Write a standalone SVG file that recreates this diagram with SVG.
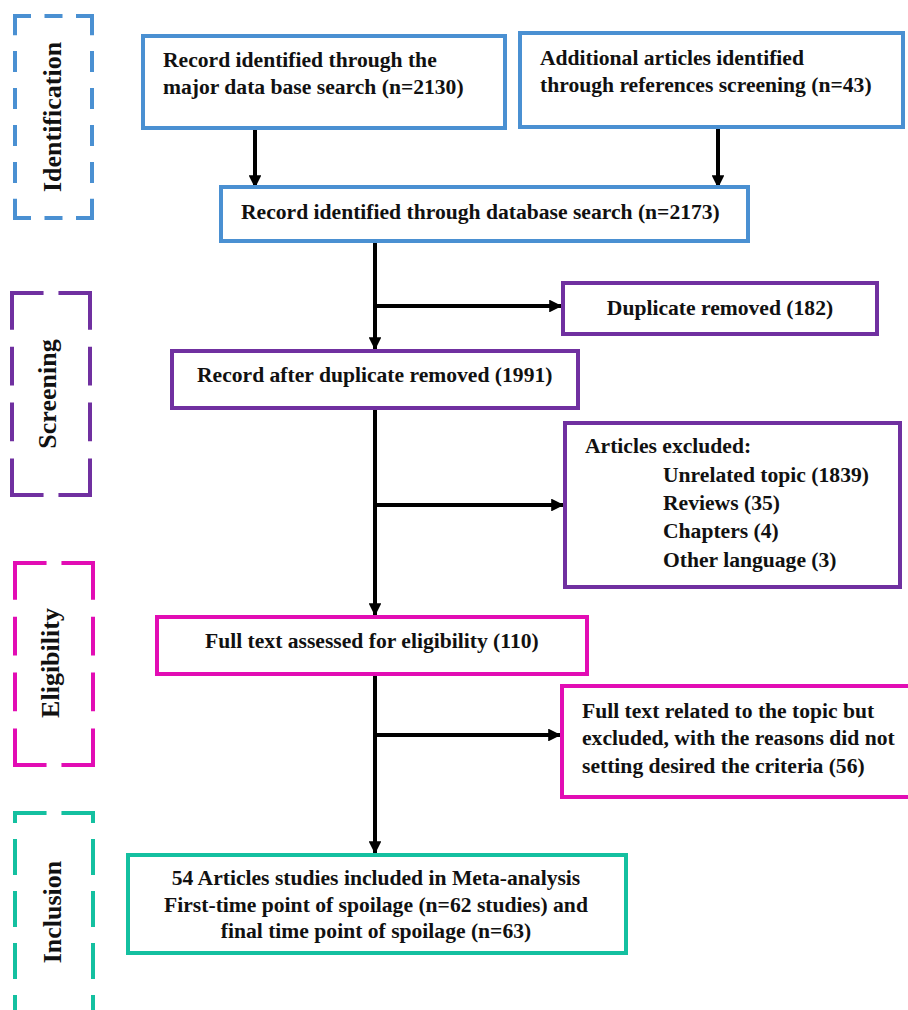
<svg xmlns="http://www.w3.org/2000/svg" width="908" height="1010" viewBox="0 0 908 1010">
<style>
text{font-family:"Liberation Serif","Times New Roman",serif;font-weight:bold;font-size:21.6px;fill:#111}
.lbl{font-size:26px}
.box{fill:#fff;stroke-width:4}
.d{fill:none;stroke-width:4;stroke-dasharray:36 16}
.s{fill:none;stroke-width:4;stroke-dasharray:20 15}
.blue{stroke:#4A90D2}.purple{stroke:#7030A0}.pink{stroke:#E20DB4}.teal{stroke:#14C0A0}
.conn{stroke:#000;stroke-width:4;fill:none}
</style>
<defs>
<marker id="ah" viewBox="0 0 10 10" refX="10" refY="5" markerWidth="3.2" markerHeight="3.2" orient="auto" markerUnits="strokeWidth">
<path d="M0,0 L10,5 L0,10 z" fill="#000"/>
</marker>
</defs>
<g id="stage-identification">
<line class="s blue" x1="13" y1="16" x2="94" y2="16" pathLength="90"/>
<line class="s blue" x1="13" y1="218" x2="94" y2="218" pathLength="90"/>
<line class="s blue" x1="15" y1="14" x2="15" y2="220" pathLength="195"/>
<line class="s blue" x1="92" y1="14" x2="92" y2="220" pathLength="195"/>
<text class="lbl" transform="translate(61,117) rotate(-90)" text-anchor="middle">Identification</text>
</g>
<g id="stage-screening">
<line class="d purple" x1="10" y1="293" x2="92" y2="293" pathLength="88"/>
<line class="d purple" x1="10" y1="495" x2="92" y2="495" pathLength="88"/>
<line class="d purple" x1="12" y1="291" x2="12" y2="497" pathLength="192"/>
<line class="d purple" x1="90" y1="291" x2="90" y2="497" pathLength="192"/>
<text class="lbl" transform="translate(56,394) rotate(-90)" text-anchor="middle">Screening</text>
</g>
<g id="stage-eligibility">
<line class="d pink" x1="13" y1="563" x2="95" y2="563" pathLength="88"/>
<line class="d pink" x1="13" y1="765" x2="95" y2="765" pathLength="88"/>
<line class="d pink" x1="15" y1="561" x2="15" y2="767" pathLength="192"/>
<line class="d pink" x1="93" y1="561" x2="93" y2="767" pathLength="192"/>
<text class="lbl" transform="translate(59,663) rotate(-90)" text-anchor="middle">Eligibility</text>
</g>
<g id="stage-inclusion">
<line class="d teal" x1="13" y1="813" x2="95" y2="813" pathLength="88"/>
<line class="d teal" x1="15" y1="811" x2="15" y2="1010" style="stroke-dasharray:12 16 36 16 36 16 36 16 36 16"/>
<line class="d teal" x1="93" y1="811" x2="93" y2="1010" style="stroke-dasharray:12 16 36 16 36 16 36 16 36 16"/>
<text class="lbl" transform="translate(61,912) rotate(-90)" text-anchor="middle">Inclusion</text>
</g>
<g id="connectors">
<line class="conn" x1="255" y1="128" x2="255" y2="188" marker-end="url(#ah)"/>
<line class="conn" x1="718" y1="127" x2="718" y2="188" marker-end="url(#ah)"/>
<line class="conn" x1="375" y1="241" x2="375" y2="350" marker-end="url(#ah)"/>
<line class="conn" x1="375" y1="306" x2="562" y2="306" marker-end="url(#ah)"/>
<line class="conn" x1="375" y1="408" x2="375" y2="616" marker-end="url(#ah)"/>
<line class="conn" x1="375" y1="505" x2="564" y2="505" marker-end="url(#ah)"/>
<line class="conn" x1="375" y1="673" x2="375" y2="854" marker-end="url(#ah)"/>
<line class="conn" x1="375" y1="735" x2="561" y2="735" marker-end="url(#ah)"/>
</g>
<g id="n1">
<rect class="box blue" x="143" y="36" width="362" height="92"/>
<text x="163" y="67">Record identified through the</text>
<text x="163" y="94">major data base search (n=2130)</text>
</g>
<g id="n2">
<rect class="box blue" x="520" y="33" width="383" height="94"/>
<text x="540" y="65">Additional articles identified</text>
<text x="540" y="92">through references screening (n=43)</text>
</g>
<g id="n3">
<rect class="box blue" x="221" y="187" width="527" height="54"/>
<text x="241" y="219">Record identified through database search (n=2173)</text>
</g>
<g id="n4">
<rect class="box purple" x="563" y="283" width="314" height="51"/>
<text x="720" y="315" text-anchor="middle">Duplicate removed (182)</text>
</g>
<g id="n5">
<rect class="box purple" x="172" y="351" width="406" height="57"/>
<text x="197" y="382">Record after duplicate removed (1991)</text>
</g>
<g id="n6">
<rect class="box purple" x="565" y="423" width="335" height="164"/>
<text x="585" y="453">Articles excluded:</text>
<text x="663" y="482">Unrelated topic (1839)</text>
<text x="663" y="510">Reviews (35)</text>
<text x="663" y="538">Chapters (4)</text>
<text x="663" y="567">Other language (3)</text>
</g>
<g id="n7">
<rect class="box pink" x="157" y="617" width="430" height="57"/>
<text x="205" y="648">Full text assessed for eligibility (110)</text>
</g>
<g id="n8">
<rect class="box pink" x="562" y="686" width="360" height="111"/>
<text x="582" y="718">Full text related to the topic but</text>
<text x="582" y="745">excluded, with the reasons did not</text>
<text x="582" y="773">setting desired the criteria (56)</text>
</g>
<g id="n9">
<rect class="box teal" x="128" y="855" width="498" height="98"/>
<text x="376" y="885" text-anchor="middle">54 Articles studies included in Meta-analysis</text>
<text x="376" y="912" text-anchor="middle">First-time point of spoilage (n=62 studies) and</text>
<text x="376" y="938" text-anchor="middle">final time point of spoilage (n=63)</text>
</g>
</svg>
